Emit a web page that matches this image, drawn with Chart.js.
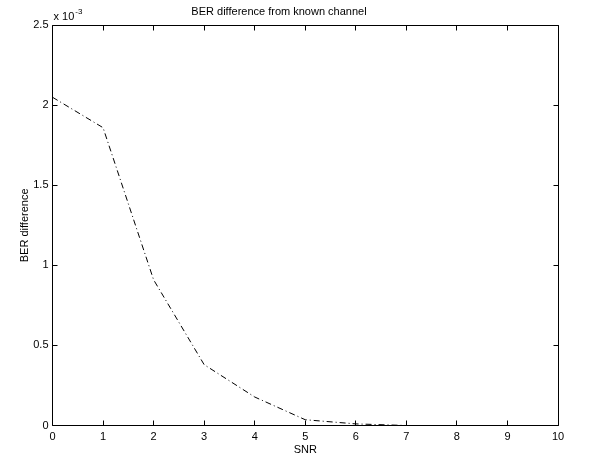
<!DOCTYPE html>
<html>
<head>
<meta charset="utf-8">
<script src="https://cdn.jsdelivr.net/npm/chart.js@4"></script>
<style>
  html, body { margin: 0; padding: 0; background: #fff; }
  #wrap { width: 589px; height: 466px; }
</style>
</head>
<body>
<div id="wrap"><canvas id="c" width="589" height="466"></canvas></div>
<script>
// ---- data (plotted with a x10^-3 exponent label) ----
const snr = [0, 1, 2, 3, 4, 5, 6, 7, 8, 9, 10];
const berDiff = [0.00205, 0.00186, 0.00091, 0.00038, 0.000178, 0.000036, 0.00001, 0, 0, 0, 0];
const xTicks = [0, 1, 2, 3, 4, 5, 6, 7, 8, 9, 10];
const yTicks = [0, 0.0005, 0.001, 0.0015, 0.002, 0.0025];
const titleText = 'BER difference from known channel';
const xLabel = 'SNR';
const yLabel = 'BER difference';
const FONT = '"Liberation Sans", Arial, Helvetica, sans-serif';

const boxPlugin = {
  id: 'box',
  afterDraw(chart) {
    const {ctx, chartArea: a, scales} = chart;
    ctx.save();
    ctx.strokeStyle = '#000';
    ctx.lineWidth = 1;
    const L = Math.floor(a.left) + 0.5, R = Math.floor(a.right) + 0.5;
    const T = Math.floor(a.top) + 0.5, B = Math.floor(a.bottom) + 0.5;
    ctx.beginPath();
    ctx.rect(L, T, R - L, B - T);
    ctx.stroke();
    const tl = 5;
    ctx.beginPath();
    xTicks.forEach(v => {
      const px = Math.floor(scales.x.getPixelForValue(v)) + 0.5;
      ctx.moveTo(px, B); ctx.lineTo(px, B - tl);
      ctx.moveTo(px, T); ctx.lineTo(px, T + tl);
    });
    yTicks.forEach(v => {
      const py = Math.floor(scales.y.getPixelForValue(v)) + 0.5;
      ctx.moveTo(L, py); ctx.lineTo(L + tl, py);
      ctx.moveTo(R, py); ctx.lineTo(R - tl, py);
    });
    ctx.stroke();
    // exponent label
    ctx.fillStyle = '#000';
    ctx.textBaseline = 'alphabetic';
    ctx.textAlign = 'left';
    ctx.font = '11px ' + FONT;
    const bx = a.left + 1, by = a.top - 5;
    ctx.fillText('x 10', bx, by);
    const w = ctx.measureText('x 10').width;
    ctx.font = '8px ' + FONT;
    ctx.fillText('-3', bx + w + 1, by - 6);
    ctx.restore();
  }
};

new Chart(document.getElementById('c'), {
  type: 'line',
  data: {
    datasets: [{
      data: snr.map((x, i) => ({x, y: berDiff[i]})),
      borderColor: '#000',
      borderWidth: 1,
      borderDash: [6, 3, 1, 3],
      pointRadius: 0,
      tension: 0,
      fill: false
    }]
  },
  options: {
    responsive: false,
    animation: false,
    devicePixelRatio: 1,
    layout: { padding: { left: 0, right: 31, top: 0, bottom: 0 } },
    plugins: {
      legend: { display: false },
      tooltip: { enabled: false },
      title: {
        display: true,
        text: titleText,
        color: '#000',
        font: { family: FONT, size: 11, weight: 'normal' },
        padding: { top: 5, bottom: 7 }
      }
    },
    scales: {
      x: {
        type: 'linear',
        min: 0, max: 10,
        afterBuildTicks(scale) { scale.ticks = xTicks.map(v => ({value: v})); },
        afterFit(scale) { scale.height = 40.5; },
        grid: { display: false, drawTicks: false },
        border: { display: false },
        ticks: {
          color: '#000',
          padding: 5,
          maxRotation: 0,
          font: { family: FONT, size: 11 },
          callback: v => String(v)
        },
        title: {
          display: true,
          text: xLabel,
          color: '#000',
          font: { family: FONT, size: 11 },
          padding: { top: 0, bottom: 9 }
        }
      },
      y: {
        type: 'linear',
        min: 0, max: 0.0025,
        afterBuildTicks(scale) { scale.ticks = yTicks.map(v => ({value: v})); },
        afterFit(scale) { scale.width = 52.5; },
        grid: { display: false, drawTicks: false },
        border: { display: false },
        ticks: {
          color: '#000',
          padding: 4,
          font: { family: FONT, size: 11 },
          callback: v => String(Math.round(v * 10000) / 10)
        },
        title: {
          display: true,
          text: yLabel,
          color: '#000',
          font: { family: FONT, size: 11 },
          padding: { top: 18, bottom: 0 }
        }
      }
    }
  },
  plugins: [boxPlugin]
});
</script>
</body>
</html>
